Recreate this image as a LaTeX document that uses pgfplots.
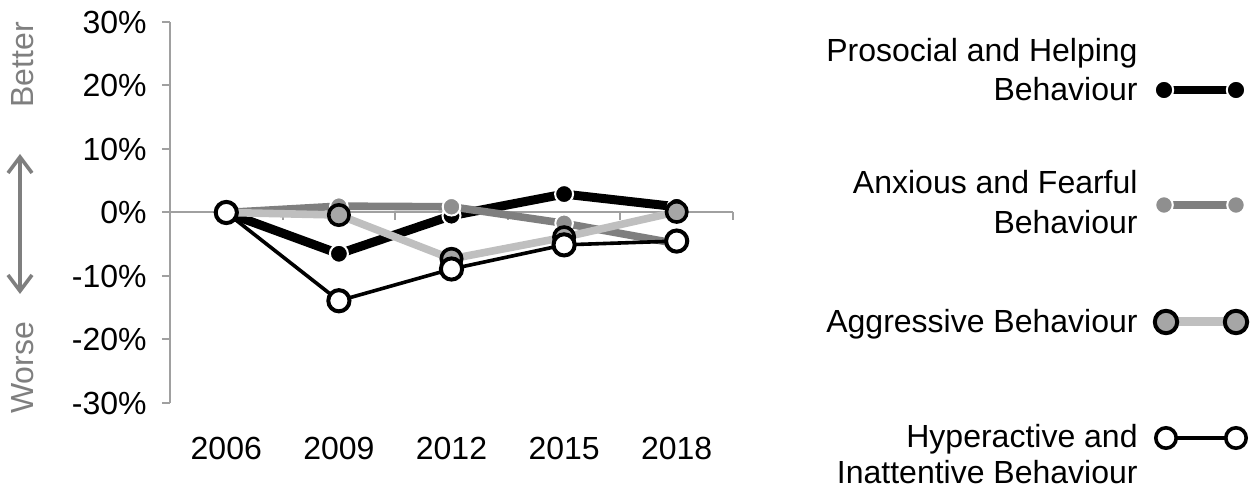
\documentclass[border=0pt]{standalone}
\usepackage{pgfplots}
\pgfplotsset{compat=1.18}
\usepackage{fontspec}
\setmainfont{Liberation Sans}
\usetikzlibrary{arrows.meta}
\definecolor{axisgray}{RGB}{160,160,160}
\definecolor{textgray}{RGB}{127,127,127}
\definecolor{anxline}{RGB}{127,127,127}
\definecolor{anxmark}{RGB}{143,143,143}
\definecolor{aggline}{RGB}{191,191,191}
\definecolor{aggmark}{RGB}{166,166,166}
\begin{document}
\begin{tikzpicture}[font=\fontsize{16}{19.5}\selectfont]
\begin{scope}[x=0.5pt,y=-0.5pt]
\path[use as bounding box] (0,0) rectangle (1259,490);
\end{scope}
\begin{axis}[
  at={(85pt,-11pt)}, anchor=north west,
  scale only axis, width=281.5pt, height=190.5pt,
  xmin=-0.5, xmax=4.5, ymin=-30, ymax=30,
  clip=false,
  axis y line*=left, axis x line*=bottom,
  x axis line style={draw=none},
  y axis line style={draw=axisgray, line width=1pt, -},
  xtick={0,1,2,3,4}, xticklabels={2006,2009,2012,2015,2018},
  xtick style={draw=none},
  ytick={-30,-20,-10,0,10,20,30},
  yticklabels={-30\%,-20\%,-10\%,0\%,10\%,20\%,30\%},
  ytick style={draw=axisgray, line width=1pt},
  tick align=outside, major tick length=4pt,
  tick label style={font=\fontsize{16}{19.5}\selectfont},
  yticklabel style={anchor=base east, inner sep=0pt, yshift=-5.75pt, xshift=-7.5pt},
  xticklabel style={anchor=base, inner sep=0pt, yshift=-24.25pt},
]
\addplot[axisgray, line width=1pt, forget plot] coordinates {(-0.5,0) (4.5,0)};
\pgfplotsinvokeforeach{0.5,1.5,2.5,3.5,4.5}{
  \draw[axisgray, line width=1pt] (axis cs:#1,0) -- ++(0pt,-4pt);
}
% Prosocial and Helping
\addplot[black, line width=4.5pt, mark=*, mark size=4.5pt,
  mark options={fill=black, draw=white, line width=1pt}]
  coordinates {(0,0) (1,-6.5) (2,-0.5) (3,2.9) (4,0.9)};
% Anxious and Fearful
\addplot[anxline, line width=3.8pt, mark=*, mark size=4.4pt,
  mark options={fill=anxmark, draw=white, line width=1pt}]
  coordinates {(0,0) (1,1.0) (2,0.9) (3,-1.7) (4,-4.9)};
% Aggressive
\addplot[aggline, line width=3.8pt, mark=*, mark size=5.1pt,
  mark options={fill=aggmark, draw=black, line width=1.8pt}]
  coordinates {(0,0) (1,-0.4) (2,-7.3) (3,-3.9) (4,0.1)};
% Hyperactive and Inattentive
\addplot[black, line width=1.8pt, mark=*, mark size=5.3pt,
  mark options={fill=white, draw=black, line width=2pt}]
  coordinates {(0,0) (1,-13.9) (2,-8.9) (3,-5.1) (4,-4.5)};
\end{axis}
\begin{scope}[x=0.5pt,y=-0.5pt]
% Better / Worse
\node[rotate=90, anchor=base, inner sep=0pt, text=textgray] at (33,65) {Better};
\node[rotate=90, anchor=base, inner sep=0pt, text=textgray] at (33,368) {Worse};
\draw[textgray, line width=1.8pt, {Straight Barb[length=8pt,width=12pt]}-{Straight Barb[length=8pt,width=12pt]}] (20,154) -- (20,294);
% Legend text
\node[anchor=base east, inner sep=0pt] at (1138,62) {Prosocial and Helping};
\node[anchor=base east, inner sep=0pt] at (1138,101) {Behaviour};
\node[anchor=base east, inner sep=0pt] at (1138,194) {Anxious and Fearful};
\node[anchor=base east, inner sep=0pt] at (1138,234) {Behaviour};
\node[anchor=base east, inner sep=0pt] at (1138,333) {Aggressive Behaviour};
\node[anchor=base east, inner sep=0pt] at (1138,448) {Hyperactive and};
\node[anchor=base east, inner sep=0pt] at (1138,484) {Inattentive Behaviour};
% Legend samples
\draw[black, line width=4pt] (1164,90) -- (1236,90);
\path[fill=black, draw=white, line width=1pt] (1164,90) circle[radius=4.6pt] (1236,90) circle[radius=4.6pt];
\draw[anxline, line width=3.8pt] (1164,205) -- (1236,205);
\path[fill=anxmark, draw=white, line width=1pt] (1164,205) circle[radius=4.4pt] (1236,205) circle[radius=4.4pt];
\draw[aggline, line width=4.5pt] (1166,322) -- (1236,322);
\path[fill=aggmark, draw=black, line width=2pt] (1166,322) circle[radius=5.6pt] (1236,322) circle[radius=5.6pt];
\draw[black, line width=1.7pt] (1166,438) -- (1236,438);
\path[fill=white, draw=black, line width=1.8pt] (1166,438) circle[radius=5.1pt] (1236,438) circle[radius=5.1pt];
\end{scope}
\end{tikzpicture}
\end{document}
